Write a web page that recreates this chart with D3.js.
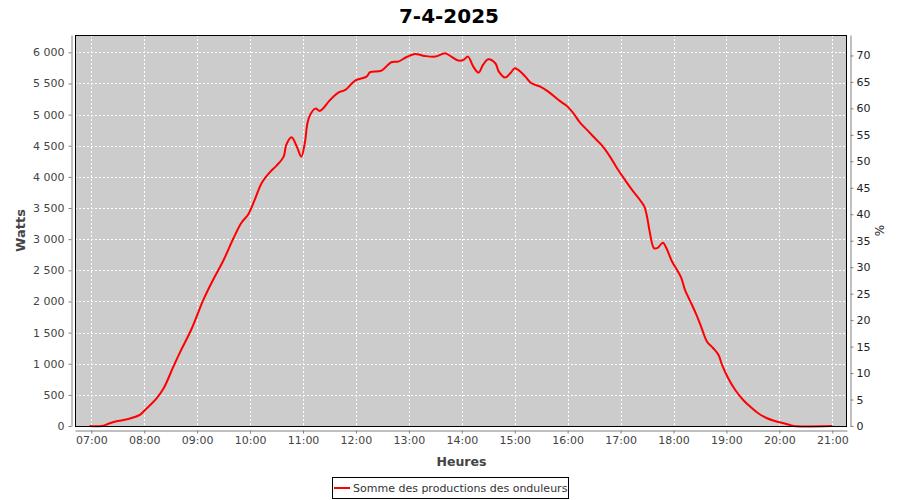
<!DOCTYPE html>
<html>
<head>
<meta charset="utf-8">
<script src="https://cdn.jsdelivr.net/npm/d3@7"></script>
<style>
  html, body { margin: 0; padding: 0; background: #fff; }
  svg { display: block; font-family: "DejaVu Sans", sans-serif; }
</style>
</head>
<body>
<svg id="chart" width="900" height="500"></svg>
<script>
// ---- data ----
const chartTitle = "7-4-2025";
const seriesName = "Somme des productions des onduleurs";
const xLabel = "Heures";
const yLabel = "Watts";
const y2Label = "%";
const times = ["06:58","07:12","07:20","07:30","07:42","07:55","07:59","08:14","08:22","08:33","08:40","08:54",
  "09:07","09:18","09:30","09:41","09:50","09:58","10:06","10:13","10:23","10:30","10:38","10:41","10:47","10:53",
  "10:58","11:02","11:05","11:08","11:14","11:19","11:23","11:30","11:40","11:48","11:59","12:12","12:16","12:29",
  "12:40","12:48","12:57","13:07","13:18","13:30","13:41","13:48","13:56","14:02","14:07","14:13","14:19","14:24",
  "14:30","14:38","14:42","14:49","14:55","15:00","15:04","15:12","15:19","15:29","15:38","15:51","15:59","16:06",
  "16:14","16:22","16:31","16:40","16:48","16:56","17:05","17:13","17:22","17:27","17:30","17:33","17:38","17:42",
  "17:48","17:52","17:58","18:04","18:09","18:13","18:21","18:26","18:32","18:38","18:45","18:51","18:55","19:02",
  "19:10","19:19","19:27","19:36","19:46","19:55","20:05","20:12","20:16","21:00"];
const watts = [0,0,40,80,112,177,230,445,605,952,1167,1569,
  2024,2345,2666,3010,3260,3400,3660,3898,4084,4180,4325,4513,4635,4486,
  4325,4540,4861,4995,5096,5059,5102,5224,5353,5396,5546,5610,5680,5706,
  5841,5851,5921,5974,5942,5931,5985,5931,5867,5878,5931,5771,5674,5797,
  5888,5824,5690,5594,5664,5744,5717,5610,5503,5450,5369,5220,5140,5030,
  4871,4754,4620,4486,4325,4138,3951,3790,3629,3522,3361,3120,2853,2860,
  2944,2853,2650,2505,2372,2184,1943,1783,1569,1354,1248,1140,980,766,
  578,418,310,204,124,80,43,16,0,0];
const xTicks = ["07:00","08:00","09:00","10:00","11:00","12:00","13:00","14:00","15:00","16:00","17:00","18:00","19:00","20:00","21:00"];
const yTicks = [0,500,1000,1500,2000,2500,3000,3500,4000,4500,5000,5500,6000];
const y2Ticks = [0,5,10,15,20,25,30,35,40,45,50,55,60,65,70];
const yMax = 6278;
const peakPower = 8500; // watts corresponding to 100 %

// ---- layout ----
const svg = d3.select("#chart");
const plot = {left: 75, right: 847, top: 35, bottom: 426};
const parse = d3.timeParse("%H:%M");
const x = d3.scaleTime()
  .domain([new Date(1900,0,1,6,41,31), new Date(1900,0,1,21,16,40)])
  .range([plot.left, plot.right]);
const y = d3.scaleLinear().domain([0, yMax]).range([plot.bottom, plot.top]);
const y2 = d3.scaleLinear().domain([0, yMax / peakPower * 100]).range([plot.bottom, plot.top]);
const fr = d3.formatLocale({decimal: ",", thousands: " ", grouping: [3], currency: ["", " €"]});
const fmt = fr.format(",d");

// plot background
svg.append("rect").attr("x", plot.left).attr("y", plot.top)
  .attr("width", plot.right - plot.left).attr("height", plot.bottom - plot.top)
  .attr("fill", "#cccccc");

// gridlines
const grid = svg.append("g");
grid.selectAll("line.v").data(xTicks).join("line")
  .attr("x1", d => Math.round(x(parse(d))) + 0.5).attr("x2", d => Math.round(x(parse(d))) + 0.5)
  .attr("y1", plot.top).attr("y2", plot.bottom)
  .attr("stroke", "#fff").attr("stroke-width", 1).attr("stroke-dasharray", "2,2");
grid.selectAll("line.h").data(yTicks.filter(d => d > 0)).join("line")
  .attr("y1", d => Math.round(y(d)) + 0.5).attr("y2", d => Math.round(y(d)) + 0.5)
  .attr("x1", plot.left).attr("x2", plot.right)
  .attr("stroke", "#fff").attr("stroke-width", 1).attr("stroke-dasharray", "2,2");

// series line
const data = times.map((t, i) => ({t: parse(t), v: watts[i]}));
const line = d3.line().x(d => x(d.t)).y(d => y(d.v)).curve(d3.curveCatmullRom.alpha(0.5));
svg.append("path").datum(data).attr("d", line)
  .attr("fill", "none").attr("stroke", "#ff0000").attr("stroke-width", 2)
  .attr("stroke-linejoin", "round");

// plot border
svg.append("rect").attr("x", plot.left + 0.5).attr("y", plot.top + 0.5)
  .attr("width", plot.right - plot.left - 1).attr("height", plot.bottom - plot.top)
  .attr("fill", "none").attr("stroke", "#000").attr("stroke-width", 1);

// axes
function styleAxis(g, color) {
  g.select(".domain").attr("stroke", "#808080");
  g.selectAll(".tick line").attr("stroke", "#808080");
  g.selectAll(".tick text").attr("fill", color).style("font-size", "11px")
    .style("font-family", "'DejaVu Sans', sans-serif");
}
const yAxis = svg.append("g").attr("transform", `translate(${plot.left - 3.5},0)`)
  .call(d3.axisLeft(y).tickValues(yTicks).tickFormat(fmt).tickSize(3).tickSizeOuter(0).tickPadding(4));
styleAxis(yAxis, "#444");
const y2Axis = svg.append("g").attr("transform", `translate(${plot.right + 3.5},0)`)
  .call(d3.axisRight(y2).tickValues(y2Ticks).tickSize(3).tickSizeOuter(0).tickPadding(3));
styleAxis(y2Axis, "#222");
const xAxis = svg.append("g").attr("transform", `translate(0,${plot.bottom + 4.5})`)
  .call(d3.axisBottom(x).tickValues(xTicks.map(parse)).tickFormat(d3.timeFormat("%H:%M"))
    .tickSize(3).tickSizeOuter(0).tickPadding(3));
styleAxis(xAxis, "#444");

// titles
svg.append("text").attr("x", 449).attr("y", 23).attr("text-anchor", "middle")
  .style("font-size", "20px").style("font-weight", "bold").attr("fill", "#000").text(chartTitle);
svg.append("text").attr("x", (plot.left + plot.right) / 2 + 0.5).attr("y", 466).attr("text-anchor", "middle")
  .style("font-size", "12.5px").style("font-weight", "bold").attr("fill", "#444").text(xLabel);
svg.append("text").attr("transform", `translate(25,${(plot.top + plot.bottom) / 2}) rotate(-90)`)
  .attr("text-anchor", "middle").style("font-size", "13px").style("font-weight", "bold")
  .attr("fill", "#444").text(yLabel);
svg.append("text").attr("transform", `translate(884,${(plot.top + plot.bottom) / 2}) rotate(-90)`)
  .attr("text-anchor", "middle").style("font-size", "12px").attr("fill", "#222").text(y2Label);

// legend
const lg = svg.append("g");
lg.append("rect").attr("x", 332.5).attr("y", 477.5).attr("width", 236).attr("height", 21)
  .attr("fill", "#fff").attr("stroke", "#000");
lg.append("line").attr("x1", 334).attr("x2", 350).attr("y1", 488).attr("y2", 488)
  .attr("stroke", "#ff0000").attr("stroke-width", 2);
lg.append("text").attr("x", 353).attr("y", 492).style("font-size", "11px").attr("fill", "#333")
  .text(seriesName);
</script>
</body>
</html>
